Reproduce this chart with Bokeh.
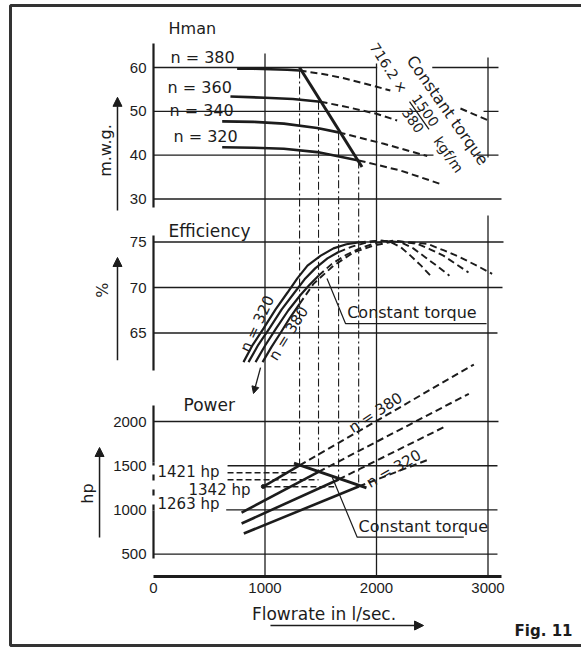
from bokeh.plotting import figure
from bokeh.models import Range1d, LinearAxis, FixedTicker, Arrow, NormalHead
from bokeh.core.properties import value
from bokeh.embed import file_html
from bokeh.resources import INLINE

# ------------------------------------------------------------------ data
flow_ticks = [0, 1000, 2000, 3000]
head_ticks = [30, 40, 50, 60]
eff_ticks = [65, 70, 75]
power_ticks = [500, 1000, 1500, 2000]
speeds = [380, 360, 340, 320]

# constant-torque operating points (flowrate l/s) for each speed
ct_flow = [1310, 1480, 1660, 1840]
ct_head = [59.3, 52.2, 45.2, 38.8]
ct_power = [1505, 1430, 1345, 1265]
hp_marks = [1421, 1342, 1263]
hp_mark_flow_end = [1310, 1480, 1620]

# Hman (m.w.g.) curves: solid part up to constant torque, dashed beyond
head_solid = {
    380: ([750, 900, 1050, 1200, 1310], [59.7, 59.7, 59.6, 59.5, 59.3]),
    360: ([690, 1000, 1250, 1498], [53.4, 53.1, 52.8, 52.2]),
    340: ([616, 900, 1169, 1468, 1660], [47.7, 47.6, 47.2, 46.2, 45.2]),
    320: ([616, 900, 1169, 1468, 1840], [41.8, 41.7, 41.45, 40.7, 38.8]),
}
head_dash = {
    380: ([1310, 1500, 1700, 1900, 2124], [59.3, 58.6, 57.6, 56.3, 54.75]),
    360: ([1498, 1750, 2006, 2185], [52.2, 50.9, 49.4, 47.9]),
    340: ([1660, 2066, 2455], [45.2, 42.6, 39.8]),
    320: ([1840, 2215, 2589], [38.8, 36.5, 33.3]),
}
head_dash_tail_380 = ([2753, 3004], [50.65, 47.9])
ct_head_line = ([1310, 1870], [60.0, 37.3])

# Efficiency (%) curves
eff_solid = {
    380: ([978, 1060, 1139, 1225, 1310], [61.8, 63.5, 65.0, 66.7, 68.2]),
    360: ([915, 1000, 1100, 1210, 1320, 1400, 1480],
          [61.8, 63.6, 65.5, 67.5, 69.2, 70.3, 71.3]),
    340: ([852, 940, 1040, 1150, 1265, 1355, 1450, 1560, 1660],
          [61.8, 63.7, 65.5, 67.6, 69.45, 70.9, 72.1, 73.2, 73.9]),
    320: ([807, 890, 987, 1095, 1202, 1290, 1381, 1500, 1614, 1730, 1840],
          [61.8, 63.7, 65.5, 67.6, 69.45, 71.0, 72.4, 73.5, 74.3, 74.75, 74.95]),
}
eff_dash = {
    380: ([1310, 1435, 1614, 1794, 1973, 2170, 2455, 2600, 2753, 2900, 3037],
          [68.2, 70.4, 72.4, 73.85, 74.6, 75.1, 74.8, 74.1, 73.3, 72.4, 71.5]),
    360: ([1480, 1600, 1730, 1870, 2000, 2150, 2365, 2480, 2600, 2710, 2825],
          [71.3, 72.6, 73.6, 74.4, 74.9, 75.15, 74.8, 74.2, 73.5, 72.6, 71.65]),
    340: ([1660, 1780, 1900, 2030, 2215, 2330, 2440, 2550, 2654],
          [73.9, 74.5, 74.9, 75.15, 75.0, 74.3, 73.3, 72.3, 71.3]),
    320: ([1840, 1960, 2050, 2126, 2220, 2305, 2400, 2484],
          [74.95, 75.1, 75.15, 75.0, 74.4, 73.5, 72.4, 71.3]),
}

# Power (hp) curves
power_solid = {
    380: ([985, 1310], [1265, 1505]),
    360: ([790, 1480], [970, 1430]),
    340: ([790, 1660], [847, 1345]),
    320: ([810, 1840], [734, 1265]),
}
power_dash = {
    380: ([1310, 2100, 2873], [1505, 2080, 2644]),
    360: ([1480, 2828], [1430, 2313]),
    340: ([1660, 2604], [1345, 1936]),
    320: ([1840, 2484], [1265, 1578]),
}
ct_power_line = ([1260, 1910], [1530, 1250])

# ------------------------------------------------------------------ layout
INK = "#1c1c1c"
TICK_FONT = "Liberation Sans"
LABEL_FONT = "DejaVu Sans"
W, H = 581, 648
OX, OY = 0, 0
X0PX, XS = 153, 0.1115  # screen x of flowrate 0, px per l/s


def frange(v_top, y_top, v_bot, y_bot):
    k = (y_bot - y_top) / (v_top - v_bot)
    return Range1d(v_bot - (OY + H - y_bot) / k, v_top + (y_top - OY) / k)


x_range = Range1d((OX - X0PX) / XS, (OX + W - X0PX) / XS)
page = Range1d(0, H)
ranges = {
    "h": frange(60, 67, 30, 198.5),
    "eta": frange(75, 241.5, 65, 332.5),
    "pw": frange(2000, 421, 500, 553.7),
}


def at(rng, y):
    r = page if rng == "default" else ranges[rng]
    return r.end - (y - OY) / H * (r.end - r.start)


def qx(x):
    return (x - X0PX) / XS


p = figure(width=W, height=H, x_range=x_range, y_range=page,
           x_axis_location=None, y_axis_location=None,
           toolbar_location=None, tools="", min_border=0,
           output_backend="svg", background_fill_color="white",
           border_fill_color="white")
p.extra_y_ranges = ranges
p.xgrid.visible = False
p.ygrid.visible = False
p.outline_line_color = None

# frame of the figure sheet
p.line([qx(581), qx(10), qx(10), qx(581)],
       [at("default", 5), at("default", 5), at("default", 645), at("default", 645)],
       line_color="#333333", line_width=3)


def yaxis(rng, ticks, bounds, line=True):
    ax = LinearAxis(y_range_name=rng, fixed_location=0, bounds=bounds,
                    ticker=FixedTicker(ticks=ticks, minor_ticks=[]))
    ax.major_tick_out = 0
    ax.major_tick_in = 0
    ax.minor_tick_out = 0
    ax.minor_tick_in = 0
    ax.major_tick_line_color = None
    ax.minor_tick_line_color = None
    ax.axis_line_width = 2.2
    ax.axis_line_color = INK if line else None
    ax.major_label_text_font = TICK_FONT
    ax.major_label_text_font_size = "15px"
    ax.major_label_text_color = INK
    ax.major_label_standoff = 7
    p.add_layout(ax, "left")


yaxis("h", head_ticks, (28.1, 65.5))
yaxis("eta", eff_ticks, (60.9, 75.7))
yaxis("pw", power_ticks, (451, 2181), line=False)

xa = LinearAxis(fixed_location=at("default", 576), bounds=(0, 3120),
                ticker=FixedTicker(ticks=flow_ticks, minor_ticks=[]))
xa.major_tick_out = 0
xa.major_tick_in = 0
xa.minor_tick_out = 0
xa.minor_tick_in = 0
xa.major_tick_line_color = None
xa.minor_tick_line_color = None
xa.axis_line_width = 3
xa.axis_line_color = INK
xa.major_label_text_font = TICK_FONT
xa.major_label_text_font_size = "15px"
xa.major_label_text_color = INK
xa.major_label_standoff = 6
p.add_layout(xa, "below")

# power axis line (broken where the hp marks are)
p.segment(x0=[0, 0], y0=[451, 1537], x1=[0, 0], y1=[994, 2181], y_range_name="pw",
          line_color=INK, line_width=2.2)
p.segment(x0=[0], y0=[994], x1=[0], y1=[1537], y_range_name="pw",
          line_color=INK, line_width=2.2, line_dash="6 9")


def hseg(rng, rows, width=1.3):
    p.segment(x0=[r[1] for r in rows], y0=[r[0] for r in rows],
              x1=[r[2] for r in rows], y1=[r[0] for r in rows],
              y_range_name=rng, line_color=INK, line_width=width)


hseg("h", [(60, 0, 2006), (60, 2500, 3094), (50, 0, 2395), (50, 2960, 3094),
           (40, 0, 2511), (40, 2900, 3094), (30, 0, 3121)])
hseg("eta", [(75, 0, 3139), (70, 0, 3130), (65, 0, 3085)])
hseg("pw", [(2000, 0, 3094), (1500, 664, 3085), (1000, 652, 3085), (500, 0, 3085)])

# vertical grid lines (page coordinates)
p.segment(x0=[1000, 2000, 3000, 3000],
          y0=[at("default", 53), at("default", 63), at("default", 57), at("default", 215)],
          x1=[1000, 2000, 3000, 3000],
          y1=[at("default", 576), at("default", 576), at("default", 157), at("default", 576)],
          line_color=INK, line_width=1.3)

# dash-dot verticals linking constant torque points
DD = "8 3 2 3"
p.segment(x0=ct_flow, y0=ct_head, x1=ct_flow, y1=[at("h", 330)] * 4, y_range_name="h",
          line_color=INK, line_width=1.1, line_dash=DD)
p.segment(x0=ct_flow, y0=[at("pw", 330)] * 4, x1=ct_flow, y1=ct_power, y_range_name="pw",
          line_color=INK, line_width=1.1, line_dash=DD)

DASH = "7 4"
for n in speeds:
    q, v = head_solid[n]
    p.line(q, v, y_range_name="h", line_color=INK, line_width=2.6)
    q, v = head_dash[n]
    p.line(q, v, y_range_name="h", line_color=INK, line_width=2.0, line_dash=DASH)
    q, v = eff_solid[n]
    p.line(q, v, y_range_name="eta", line_color=INK, line_width=2.2)
    q, v = eff_dash[n]
    p.line(q, v, y_range_name="eta", line_color=INK, line_width=1.9, line_dash=DASH)
    q, v = power_solid[n]
    p.line(q, v, y_range_name="pw", line_color=INK, line_width=2.6)
    q, v = power_dash[n]
    p.line(q, v, y_range_name="pw", line_color=INK, line_width=2.0, line_dash=DASH)

p.line(*head_dash_tail_380, y_range_name="h", line_color=INK, line_width=2.0, line_dash=DASH)
p.line(*ct_head_line, y_range_name="h", line_color=INK, line_width=3.0)
p.line(*ct_power_line, y_range_name="pw", line_color=INK, line_width=3.0)

# hp reference dashes
p.segment(x0=[664, 664, 1004], y0=hp_marks, x1=hp_mark_flow_end, y1=hp_marks,
          y_range_name="pw", line_color=INK, line_width=1.4, line_dash="6 3")
p.scatter([985], [1265], y_range_name="pw", size=4, color=INK)

# leaders for "Constant torque"
p.line([1556, 1722, 2987], [71.0, 66.04, 66.04], y_range_name="eta", line_color=INK, line_width=1.2)
p.line([1603, 1827, 2783], [1370, 692, 692], y_range_name="pw", line_color=INK, line_width=1.2)
# fraction bar 1500/380
p.segment(x0=[2296], y0=[52.2], x1=[2471], y1=[45.9], y_range_name="h", line_color=INK, line_width=1.3)


def label(x, y, txt, rng="default", size="16px", align="left", angle=0,
          font=LABEL_FONT, style="normal"):
    p.text(x=[x], y=[y], text=[txt], y_range_name=rng, text_font=value(font),
           text_font_size=size, text_align=align, text_baseline="middle",
           angle=angle, angle_units="deg", text_color=INK, text_font_style=style)


# top panel
label(135, 68.9, "Hman", "h")
for (qq, hy), n in zip([(152, 62.35), (126, 55.5), (143, 50.2), (179, 44.26)], speeds):
    label(qq, hy, f"n = {n}", "h")
label(2637, 50.2, "Constant torque", "h", align="center", angle=-55)
label(2108, 59.9, "716.2 \u00d7", "h", size="14px", align="center", angle=-57)
label(2439, 50.2, "1500", "h", size="14px", align="center", angle=-55)
label(2327, 47.9, "380", "h", size="14px", align="center", angle=-55)
label(2646, 40.15, "kgf/m", "h", size="14px", align="center", angle=-55)

# efficiency panel
label(135, 76.26, "Efficiency", "eta", size="17px")
label(930, 66.0, "n = 320", "eta", size="15px", align="center", angle=65)
label(1211, 64.95, "n = 380", "eta", size="15px", align="center", angle=58)
label(1737, 67.2, "Constant torque", "eta")

# power panel
label(269, 2181, "Power", "pw", size="17px")
label(36, 1424, "1421  hp", "pw", size="15px")
label(314, 1231, "1342  hp", "pw", size="15px")
label(36, 1073, "1263  hp", "pw", size="15px")
label(1991, 2100, "n = 380", "pw", size="15px", align="center", angle=33)
label(2155, 1465, "n = 320", "pw", size="15px", align="center", angle=30)
label(1839, 813, "Constant torque", "pw")

# axis titles and arrows
label(-430, 41.06, "m.w.g.", "h", align="center", angle=90)
label(-457, 69.7, "%", "eta", align="center", angle=90)
label(-592, 1186, "hp", "pw", align="center", angle=90)
label(1578, at("default", 613), "Flowrate  in  l/sec.", size="17px", align="center")
label(qx(572), at("default", 630), "Fig. 11", size="15px", align="right", style="bold")


def arrow(x0, y0, x1, y1, rng="default", size=9, width=1.5):
    p.add_layout(Arrow(end=NormalHead(size=size, fill_color=INK, line_color=INK),
                       x_start=x0, y_start=y0, x_end=x1, y_end=y1, y_range_name=rng,
                       line_color=INK, line_width=width))


arrow(-323, 27.4, -323, 53.2, "h")
arrow(-323, 62.0, -323, 73.3, "eta")
arrow(-484, 689, -484, 1706, "pw")
arrow(1049, at("default", 625), 2422, at("default", 625))
arrow(960, 61.2, 897, 58.35, "eta", size=7, width=1.3)

open("out.html", "w").write(file_html(p, INLINE))
